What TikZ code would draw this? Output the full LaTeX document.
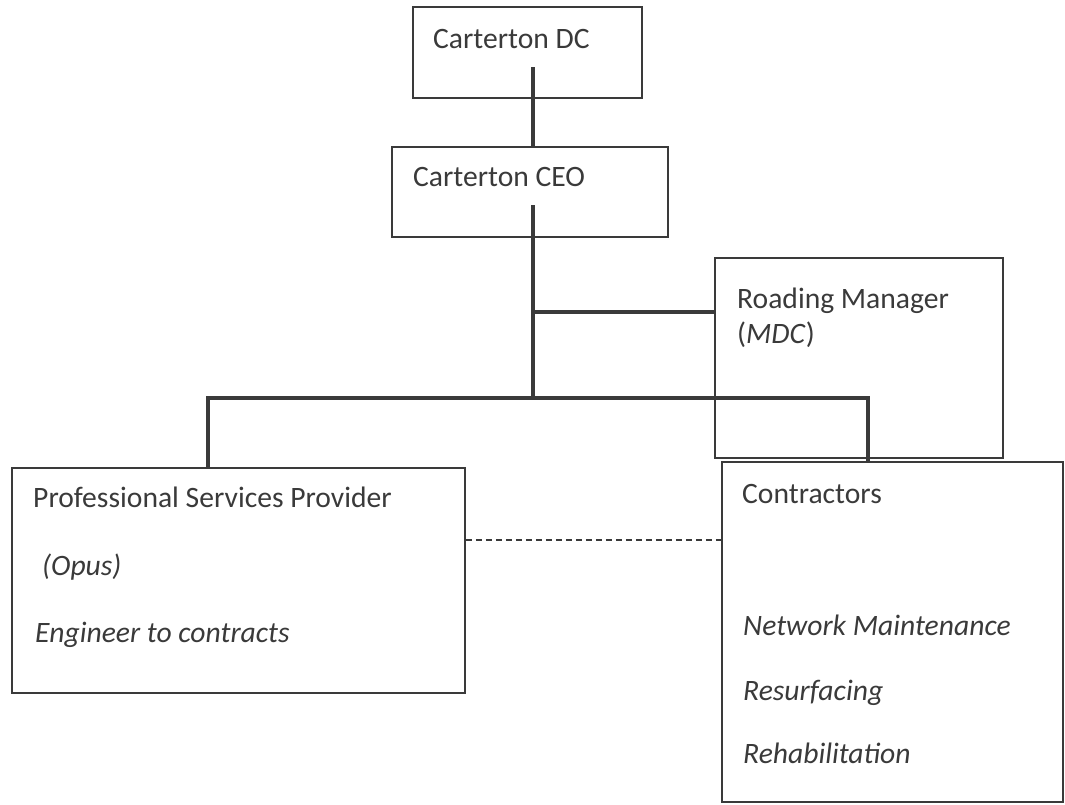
\documentclass[tikz,border=0pt]{standalone}
\usepackage{fontspec}
\setmainfont{Carlito}
\usetikzlibrary{calc}
\definecolor{ink}{HTML}{3A3A3A}
\tikzset{
  box/.style={draw=ink, line width=1.6pt, inner sep=0pt},
  lbl/.style={anchor=base west, inner sep=0pt, text=ink, font=\fontsize{29.6}{35}\selectfont},
  link/.style={draw=ink, line width=3.6pt},
  dashlink/.style={draw=ink, line width=1.3pt, dash pattern=on 6pt off 4pt}
}

\begin{document}
\begin{tikzpicture}[x=1pt,y=-1pt]
			%%%%% START %%%%%
			\useasboundingbox (0,0) rectangle (1065,804);
			
			\node[box, minimum width=229, minimum height=91] (dc) at (527.5,52.5) {};
			\node[box, minimum width=276, minimum height=90] (ceo) at (530,192) {};
			\node[box, minimum width=288, minimum height=200] (rm) at (859,358) {};
			\node[box, minimum width=453, minimum height=225] (psp) at (238.5,580.5) {};
			\node[box, minimum width=341, minimum height=340] (con) at (892.5,632) {};
			
			\node[lbl] (dctxt) at (433,48) {Carterton DC};
			\node[lbl] (ceotxt) at (413,186) {Carterton CEO};
			\node[lbl] (rmtxt) at (737,308) {Roading Manager};
			\node[lbl] (rmsub) at (737,343) {(\textit{MDC})};
			\node[lbl] (psptxt) at (33,507) {Professional Services Provider};
			\node[lbl] (pspsub) at (42,575) {\textit{(Opus)}};
			\node[lbl] (psprole) at (35,642) {\textit{Engineer to contracts}};
			\node[lbl] (contxt) at (742,503) {Contractors};
			\node[lbl] (conwork) at (743,635) {\textit{Network Maintenance}};
			\node[lbl] (conres) at (743,700) {\textit{Resurfacing}};
			\node[lbl] (conreh) at (743,763) {\textit{Rehabilitation}};
			
			\coordinate (dcstub) at (533,67);
			\coordinate (ceostub) at (533,205);
			\coordinate (rmjoin) at (533,312);
			\coordinate (bus) at (533,398);
			\coordinate (pspdrop) at (208,398);
			\coordinate (condrop) at (868,398);
			\coordinate (dashy) at (0,540);
			
			\draw[link] (dcstub) -- (dcstub |- ceo.north);
			\draw[link] (ceostub) -- (bus);
			\draw[link] (rmjoin) -- (rmjoin -| rm.west);
			\draw[link, line join=miter] (pspdrop |- psp.north) -- (pspdrop) -- (condrop) -- (condrop |- con.north);
			\draw[dashlink] (psp.east |- dashy) -- (con.west |- dashy);
			%%%%% END %%%%%
		\end{tikzpicture}
\end{document}
